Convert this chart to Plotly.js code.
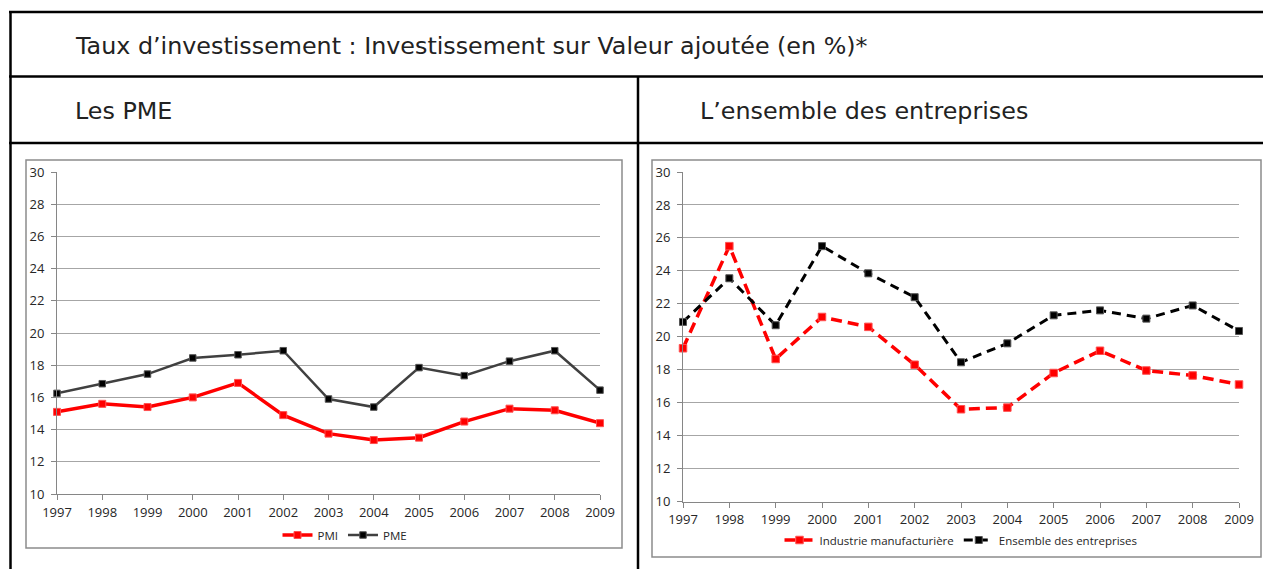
<!DOCTYPE html>
<html>
<head>
<meta charset="utf-8">
<script src="https://cdn.plot.ly/plotly-3.0.1.min.js"></script>
<style>
html,body{margin:0;padding:0;background:#fff;}
#chart{width:1263px;height:569px;}
</style>
</head>
<body>
<div id="chart"></div>
<script>
// ---- Data ----
const years = [1997,1998,1999,2000,2001,2002,2003,2004,2005,2006,2007,2008,2009];
const pmi = [15.1,15.6,15.4,16.0,16.9,14.9,13.75,13.35,13.5,14.5,15.3,15.2,14.4];
const pme = [16.25,16.85,17.45,18.45,18.65,18.9,15.9,15.4,17.85,17.35,18.25,18.9,16.45];
const industrie = [19.3,25.5,18.65,21.2,20.6,18.3,15.6,15.7,17.8,19.15,17.95,17.65,17.1];
const ensemble = [20.9,23.55,20.7,25.5,23.85,22.4,18.45,19.6,21.3,21.6,21.1,21.9,20.35];

const titleText = "Taux d’investissement : Investissement sur Valeur ajoutée (en %)*";
const leftTitle = "Les PME";
const rightTitle = "L’ensemble des entreprises";

// ---- Layout helpers (pixel -> paper) ----
const W = 1263, H = 569;
const px = x => x / W;
const py = y => 1 - y / H;

const tickFont = {family: "Open Sans, sans-serif", size: 13, color: "#262626"};
const axisGray = "#868686";
const gridGray = "#a6a6a6";

function xAxis(domain, anchor) {
  return {
    domain: domain, anchor: anchor, range: [1997, 2009],
    tickmode: "linear", tick0: 1997, dtick: 1,
    ticks: "outside", ticklen: 5, tickcolor: axisGray, tickwidth: 1,
    showline: true, linecolor: axisGray, linewidth: 1,
    showgrid: false, zeroline: false, tickfont: tickFont, fixedrange: true,
    ticklabelstandoff: 1
  };
}
function yAxis(domain, anchor) {
  return {
    domain: domain, anchor: anchor, range: [10, 30],
    tickmode: "linear", tick0: 10, dtick: 2,
    ticks: "outside", ticklen: 5, tickcolor: axisGray, tickwidth: 1,
    showline: true, linecolor: axisGray, linewidth: 1,
    showgrid: true, gridcolor: gridGray, gridwidth: 1,
    zeroline: false, tickfont: tickFont, fixedrange: true, ticklabelstandoff: 4
  };
}

const traces = [
  {x: years, y: pmi, name: "PMI", type: "scatter", mode: "lines+markers",
   xaxis: "x", yaxis: "y", legend: "legend", cliponaxis: false,
   line: {color: "#ff0000", width: 3.5},
   marker: {symbol: "square", size: 7, color: "#ff0000", line: {color: "#ff5050", width: 1}}},
  {x: years, y: pme, name: "PME", type: "scatter", mode: "lines+markers",
   xaxis: "x", yaxis: "y", legend: "legend", cliponaxis: false,
   line: {color: "#404040", width: 2.5},
   marker: {symbol: "square", size: 6.5, color: "#000000", line: {color: "#555", width: 1}}},
  {x: years, y: industrie, name: "Industrie manufacturière", type: "scatter", mode: "lines+markers",
   xaxis: "x2", yaxis: "y2", legend: "legend2", cliponaxis: false,
   line: {color: "#ff0000", width: 3.5, dash: "11px,6px"},
   marker: {symbol: "square", size: 7.5, color: "#ff0000", line: {color: "#ff5050", width: 1}}},
  {x: years, y: ensemble, name: "Ensemble des entreprises", type: "scatter", mode: "lines+markers",
   xaxis: "x2", yaxis: "y2", legend: "legend2", cliponaxis: false,
   line: {color: "#000000", width: 3, dash: "9px,6px"},
   marker: {symbol: "square", size: 7, color: "#000000", line: {color: "#555", width: 1}}}
];

function hline(y, x0, x1, color, w) {
  return {type: "line", xref: "paper", yref: "paper", x0: px(x0), x1: px(x1), y0: py(y), y1: py(y),
          line: {color: color, width: w}};
}
function vline(x, y0, y1, color, w) {
  return {type: "line", xref: "paper", yref: "paper", x0: px(x), x1: px(x), y0: py(y0), y1: py(y1),
          line: {color: color, width: w}};
}
function rect(x0, y0, x1, y1, color, w) {
  return {type: "rect", xref: "paper", yref: "paper", x0: px(x0), x1: px(x1), y0: py(y1), y1: py(y0),
          line: {color: color, width: w}, fillcolor: "rgba(0,0,0,0)"};
}

const legendFont = {family: "Open Sans, sans-serif", size: 11.5, color: "#262626"};
const titleFont = {family: "DejaVu Sans, sans-serif", size: 23.8, color: "#222222"};

const layout = {
  width: W, height: H,
  margin: {l: 0, r: 0, t: 0, b: 0},
  paper_bgcolor: "#ffffff", plot_bgcolor: "rgba(0,0,0,0)",
  hovermode: false,
  xaxis: xAxis([px(57), px(600)], "y"),
  yaxis: yAxis([py(494), py(172)], "x"),
  xaxis2: xAxis([px(683), px(1239)], "y2"),
  yaxis2: yAxis([py(501.5), py(172)], "x2"),
  legend: {orientation: "h", x: px(345), y: py(535), xanchor: "center", yanchor: "middle",
           font: legendFont, bgcolor: "rgba(0,0,0,0)", itemwidth: 30, tracegroupgap: 0},
  legend2: {orientation: "h", x: px(961), y: py(540), xanchor: "center", yanchor: "middle",
           font: legendFont, bgcolor: "rgba(0,0,0,0)", itemwidth: 30, tracegroupgap: 0},
  shapes: [
    hline(12, 9, 1263, "#000", 2.5),
    hline(76.5, 9, 1263, "#000", 2.5),
    hline(143, 9, 1263, "#000", 2.5),
    vline(10.5, 11, 569, "#000", 2.5),
    vline(638, 76, 569, "#000", 2.5),
    rect(26, 160, 622, 548, "#8c8c8c", 1.5),
    rect(652, 160, 1261, 557, "#8c8c8c", 1.5)
  ],
  annotations: [
    {text: titleText, xref: "paper", yref: "paper", x: px(73), y: py(46), xanchor: "left", yanchor: "middle",
     showarrow: false, font: titleFont},
    {text: leftTitle, xref: "paper", yref: "paper", x: px(73), y: py(111), xanchor: "left", yanchor: "middle",
     showarrow: false, font: titleFont},
    {text: rightTitle, xref: "paper", yref: "paper", x: px(698), y: py(111), xanchor: "left", yanchor: "middle",
     showarrow: false, font: titleFont}
  ]
};

Plotly.newPlot("chart", traces, layout, {displayModeBar: false, staticPlot: true});
</script>
</body>
</html>
